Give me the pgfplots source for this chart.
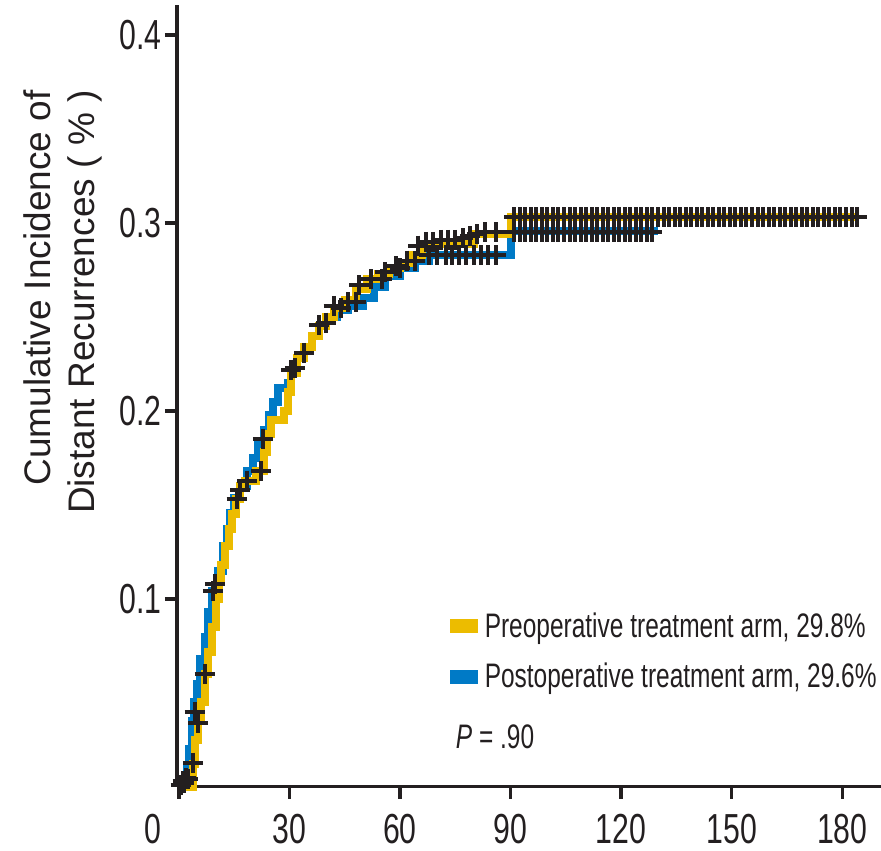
\documentclass[border=0pt]{standalone}
\usepackage{pgfplots}
\pgfplotsset{compat=1.18}
\usepackage{fontspec}
\setmainfont{Liberation Sans}
\newfontfamily\cond{Liberation Sans}[FakeStretch=0.72]
\definecolor{gold}{RGB}{236,188,0}
\definecolor{blu}{RGB}{0,122,198}
\definecolor{ink}{RGB}{35,31,32}
\begin{document}
\begin{tikzpicture}
\useasboundingbox (0,0) rectangle (881pt,851pt);
\begin{axis}[
  at={(177pt,64pt)}, anchor=south west,
  scale only axis, width=704pt, height=782pt,
  xmin=-0.5, xmax=190.5, ymin=0, ymax=0.416,
  axis x line*=bottom, axis y line*=left,
  axis line style={-, line width=3pt, ink},
  xtick={0,30,...,180},
  xticklabels={{\hbox to 0pt{\hss 0\kern 18pt}},30,60,90,120,150,180},
  ytick={0.1,0.2,0.3,0.4}, yticklabels={0.1,0.2,0.3,0.4},
  tick align=outside, major tick length=12pt,
  tick style={line width=3.5pt, ink},
  ticklabel style={font=\cond\fontsize{42}{42}\selectfont, text=ink},
  xticklabel style={yshift=-12pt},
  clip=false,
  legend cell align=left,
  legend style={at={(axis description cs:0.388,0.224)}, anchor=north west,
    draw=none, fill=none, font=\cond\fontsize{34}{41}\selectfont, text=ink,
    row sep=22pt, inner sep=0pt, nodes={inner sep=1pt},
    /tikz/every odd column/.append style={column sep=6pt}},
]
% Postoperative (blue)
\addplot[const plot, blu, line width=8pt, forget plot] coordinates {
(0,0) (1.5,0) (2.2,0.01) (2.8,0.02) (3.5,0.035) (4.2,0.045) (5,0.055) (5.8,0.068)
(7,0.08) (8,0.093) (9,0.104) (10.5,0.115) (12,0.128) (13,0.137) (14,0.146) (15,0.154)
(16.5,0.16) (18.5,0.168) (20,0.175) (21.5,0.182) (23,0.19) (24.5,0.198) (25.5,0.205)
(27,0.212) (29.5,0.215) (30.5,0.222) (32,0.228) (34,0.234) (36,0.24) (38,0.245)
(40,0.25) (43,0.254) (46,0.256) (50,0.26) (53,0.266) (56,0.272) (60,0.276) (64,0.28)
(68,0.283) (89,0.283) (90,0.296) (130,0.296)};
% Preoperative (gold)
\addplot[const plot, gold, line width=8pt, forget plot] coordinates {
(0,0) (3,0) (3.8,0.012) (4.5,0.025) (5.2,0.035) (6,0.045) (7,0.06) (8,0.072) (9,0.085)
(10,0.1) (10.8,0.11) (11.5,0.118) (12.5,0.128) (13.5,0.137) (14.5,0.145) (15.5,0.153)
(16.5,0.16) (18,0.163) (21,0.168) (23,0.178) (24,0.188) (25,0.195) (28.5,0.2)
(29.5,0.21) (30.5,0.22) (32,0.228) (34,0.234) (36,0.24) (38,0.245) (40,0.25) (42,0.255)
(45,0.259) (48,0.265) (51,0.27) (54,0.273) (57,0.276) (60,0.279) (63,0.283) (66,0.289)
(80,0.294) (90,0.303) (184,0.303)};
% censor marks, postoperative
\addplot[only marks, mark=+, mark size=10pt, ink, line width=4pt, forget plot] coordinates {
(0.5,0.001) (1,0.003) (2,0.005) (4.3,0.04) (9.2,0.104) (22.8,0.185) (30.5,0.222)
(38,0.246) (44,0.255) (48,0.258) (55,0.27) (60,0.276) (64,0.28) (68,0.283) (70,0.283)
(72.5,0.283) (74,0.283) (76,0.283) (78,0.283) (80,0.283) (82,0.283) (84,0.283) (86,0.283)
(91,0.295) (92.5,0.295) (94,0.295) (95.5,0.295) (97,0.295) (98.5,0.295) (100,0.295)
(101.5,0.295) (103,0.295) (104.5,0.295) (106,0.295) (107.5,0.295) (109,0.295)
(110.5,0.295) (112,0.295) (113.5,0.295) (115,0.295) (116.5,0.295) (118,0.295)
(119.5,0.295) (121,0.295) (122.5,0.295) (124,0.295) (125.5,0.295) (127,0.295) (128.5,0.295)};
% censor marks, preoperative
\addplot[only marks, mark=+, mark size=10pt, ink, line width=4pt, forget plot] coordinates {
(1.5,0.002) (2.5,0.004) (3.8,0.013) (5.2,0.034) (7,0.06) (9.8,0.108) (15.7,0.153)
(16.6,0.158) (18.5,0.163) (22.3,0.168) (31.5,0.223) (34,0.231) (40,0.247) (42,0.256)
(46,0.258) (49,0.267) (52,0.27) (56,0.274) (59,0.277) (62,0.28) (65,0.288) (67,0.29)
(69,0.29) (71,0.291) (73,0.291) (75,0.291) (77,0.292) (79,0.293) (81,0.294) (83,0.295) (86,0.295)
(91,0.303) (92.5,0.303) (94,0.303) (95.5,0.303) (97,0.303) (98.5,0.303) (100,0.303)
(101.5,0.303) (103,0.303) (104.5,0.303) (106,0.303) (107.5,0.303) (109,0.303)
(110.5,0.303) (112,0.303) (113.5,0.303) (115,0.303) (116.5,0.303) (118,0.303)
(119.5,0.303) (121,0.303) (122.5,0.303) (124,0.303) (125.5,0.303) (127,0.303)
(128.5,0.303) (130,0.303) (131.5,0.303) (133,0.303) (134.5,0.303) (136,0.303)
(137.5,0.303) (139,0.303) (140.5,0.303) (142,0.303) (143.5,0.303) (145,0.303)
(146.5,0.303) (148,0.303) (149.5,0.303) (151,0.303) (152.5,0.303) (154,0.303)
(155.5,0.303) (157,0.303) (158.5,0.303) (160,0.303) (161.5,0.303) (163,0.303)
(164.5,0.303) (166,0.303) (167.5,0.303) (169,0.303) (170.5,0.303) (172,0.303)
(173.5,0.303) (175,0.303) (176.5,0.303) (178,0.303) (179.5,0.303) (181,0.303)
(182.5,0.303) (184,0.303)};
\addlegendimage{legend image code/.code={\fill[gold] (0pt,-6.5pt) rectangle (27pt,6.5pt);}}
\addlegendentry{Preoperative treatment arm, 29.8\%}
\addlegendimage{legend image code/.code={\fill[blu] (0pt,-6.5pt) rectangle (27pt,6.5pt);}}
\addlegendentry{Postoperative treatment arm, 29.6\%}
\node[anchor=west, font=\cond\fontsize{34}{41}\selectfont, text=ink, inner sep=0pt]
  at (axis description cs:0.396,0.064) {\textit{P} = .90};
\node[rotate=90, anchor=east, align=right, font=\fontsize{37}{44}\selectfont, text=ink, inner sep=0pt]
  at (axis description cs:-0.162,0.891) {Cumulative Incidence of\\Distant Recurrences ( \% )};
\end{axis}
\end{tikzpicture}
\end{document}
